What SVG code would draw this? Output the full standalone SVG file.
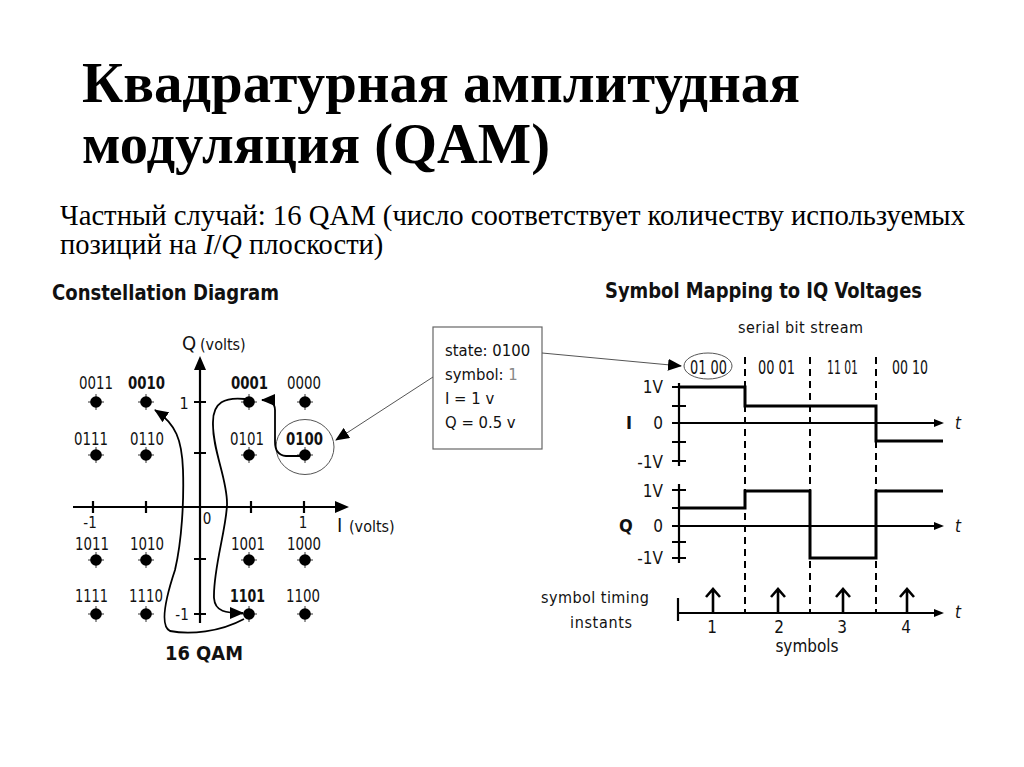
<svg xmlns="http://www.w3.org/2000/svg" width="1024" height="767" viewBox="0 0 1024 767">
<style>
.t{font-family:"Liberation Serif","Times New Roman",serif;fill:#000}
.c{font-family:"Liberation Sans Narrow","DejaVu Sans Condensed","Liberation Sans",Arial,sans-serif;font-stretch:condensed;fill:#111}
.b{font-weight:bold}
.ax{stroke:#000;stroke-width:2.2;fill:none}
.sig{stroke:#000;stroke-width:3;fill:none}
.dash{stroke:#000;stroke-width:2;stroke-dasharray:7 5;fill:none}
.cur{stroke:#000;stroke-width:1.8;fill:none}
.thin{stroke:#555;stroke-width:1;fill:none}
.dot{fill:#000}
</style>
<defs>
<marker id="ah" markerUnits="userSpaceOnUse" markerWidth="14" markerHeight="12" refX="13" refY="6" orient="auto"><path d="M0,0 L14,6 L0,12 z" fill="#000"/></marker>
<g id="pt"><circle r="5.8" class="dot"/><path d="M-8,0 H8 M0,-8 V8" stroke="#000" stroke-width="0.8"/></g>
<g id="up"><path d="M0,0 V-24 M-7,-16 L0,-24 L7,-16" stroke="#000" stroke-width="2.6" fill="none"/></g>
</defs>
<rect width="1024" height="767" fill="#fff"/>

<g id="title">
<text class="t b" x="82" y="102" font-size="56" textLength="718" lengthAdjust="spacingAndGlyphs">Квадратурная амплитудная</text>
<text class="t b" x="82" y="163" font-size="56" textLength="468" lengthAdjust="spacingAndGlyphs">модуляция (QAM)</text>
</g>
<g id="subtitle">
<text class="t" x="60" y="225" font-size="28.5" textLength="905" lengthAdjust="spacingAndGlyphs">Частный случай: 16 QAM (число соответствует количеству используемых</text>
<text class="t" x="60" y="254" font-size="28.5">позиций на <tspan font-style="italic">I</tspan>/<tspan font-style="italic">Q</tspan> плоскости)</text>
</g>

<g id="constellation">
<text class="c b" x="52" y="300" font-size="21" textLength="227" lengthAdjust="spacingAndGlyphs">Constellation Diagram</text>
<path class="ax" d="M200,365 V623 M73,507 H340" />
<path d="M200,356 L194,370 L206,370 z M349,507 L335,501 L335,513 z" fill="#000"/>
<path class="ax" d="M93,501 V513 M146,501 V513 M251,501 V513 M304,501 V513 M194,402 H206 M194,453 H206 M194,559 H206 M194,614 H206"/>
<text class="c" x="182" y="350" font-size="20">Q</text>
<text class="c" x="200" y="350" font-size="16">(volts)</text>
<text class="c" x="337" y="532" font-size="20">I</text>
<text class="c" x="349" y="532" font-size="16">(volts)</text>
<text class="c" x="90" y="528" font-size="15" text-anchor="middle">-1</text>
<text class="c" x="207" y="524" font-size="15" text-anchor="middle">0</text>
<text class="c" x="303" y="528" font-size="15" text-anchor="middle">1</text>
<text class="c" x="184" y="409" font-size="16" text-anchor="middle">1</text>
<text class="c" x="182" y="620" font-size="15" text-anchor="middle">-1</text>
<text class="c b" x="204" y="660" font-size="20" text-anchor="middle" textLength="78" lengthAdjust="spacingAndGlyphs">16 QAM</text>
</g>

<g id="points">
<g id="p0011"><use href="#pt" x="96" y="402"/><text class="c" x="79" y="389" font-size="18" textLength="34" lengthAdjust="spacingAndGlyphs">0011</text></g>
<g id="p0010"><use href="#pt" x="146" y="402"/><text class="c b" x="128" y="389" font-size="18" textLength="37" lengthAdjust="spacingAndGlyphs">0010</text></g>
<g id="p0001"><use href="#pt" x="249" y="402"/><text class="c b" x="231" y="389" font-size="18" textLength="37" lengthAdjust="spacingAndGlyphs">0001</text></g>
<g id="p0000"><use href="#pt" x="305" y="402"/><text class="c" x="287" y="389" font-size="18" textLength="34" lengthAdjust="spacingAndGlyphs">0000</text></g>
<g id="p0111"><use href="#pt" x="96" y="455"/><text class="c" x="74" y="445" font-size="18" textLength="34" lengthAdjust="spacingAndGlyphs">0111</text></g>
<g id="p0110"><use href="#pt" x="146" y="455"/><text class="c" x="130" y="445" font-size="18" textLength="34" lengthAdjust="spacingAndGlyphs">0110</text></g>
<g id="p0101"><use href="#pt" x="249" y="455"/><text class="c" x="230" y="445" font-size="18" textLength="34" lengthAdjust="spacingAndGlyphs">0101</text></g>
<g id="p0100"><use href="#pt" x="305" y="455"/><text class="c b" x="286" y="445" font-size="18" textLength="37" lengthAdjust="spacingAndGlyphs">0100</text></g>
<g id="p1011"><use href="#pt" x="96" y="560"/><text class="c" x="75" y="550" font-size="18" textLength="34" lengthAdjust="spacingAndGlyphs">1011</text></g>
<g id="p1010"><use href="#pt" x="146" y="560"/><text class="c" x="130" y="550" font-size="18" textLength="34" lengthAdjust="spacingAndGlyphs">1010</text></g>
<g id="p1001"><use href="#pt" x="249" y="560"/><text class="c" x="231" y="550" font-size="18" textLength="34" lengthAdjust="spacingAndGlyphs">1001</text></g>
<g id="p1000"><use href="#pt" x="305" y="560"/><text class="c" x="287" y="550" font-size="18" textLength="34" lengthAdjust="spacingAndGlyphs">1000</text></g>
<g id="p1111"><use href="#pt" x="96" y="614"/><text class="c" x="75" y="602" font-size="18" textLength="33" lengthAdjust="spacingAndGlyphs">1111</text></g>
<g id="p1110"><use href="#pt" x="146" y="614"/><text class="c" x="129" y="602" font-size="18" textLength="34" lengthAdjust="spacingAndGlyphs">1110</text></g>
<g id="p1101"><use href="#pt" x="249" y="614"/><text class="c b" x="230" y="602" font-size="18" textLength="35" lengthAdjust="spacingAndGlyphs">1101</text></g>
<g id="p1100"><use href="#pt" x="305" y="614"/><text class="c" x="286" y="602" font-size="18" textLength="34" lengthAdjust="spacingAndGlyphs">1100</text></g>
</g>

<g id="statebox">
<rect x="433" y="327" width="109" height="122" fill="#fff" stroke="#666" stroke-width="1.2"/>
<text class="c" x="445" y="356" font-size="16.5">state: 0100</text>
<text class="c" x="445" y="380" font-size="16.5">symbol: <tspan fill="#888">1</tspan></text>
<text class="c" x="445" y="404" font-size="16.5">I = 1 v</text>
<text class="c" x="445" y="428" font-size="16.5">Q = 0.5 v</text>
</g>

<g id="mapping">
<text class="c b" x="605" y="298" font-size="21" textLength="317" lengthAdjust="spacingAndGlyphs">Symbol Mapping to IQ Voltages</text>
<text class="c" x="738" y="333" font-size="16" textLength="125" lengthAdjust="spacing">serial bit stream</text>
<text class="c" x="690" y="374" font-size="19" textLength="37" lengthAdjust="spacingAndGlyphs">01 00</text>
<text class="c" x="758" y="374" font-size="19" textLength="37" lengthAdjust="spacingAndGlyphs">00 01</text>
<text class="c" x="827" y="374" font-size="19" textLength="31" lengthAdjust="spacingAndGlyphs" fill="#777">11 01</text>
<text class="c" x="892" y="374" font-size="19" textLength="36" lengthAdjust="spacingAndGlyphs">00 10</text>
<path class="dash" d="M745,357 V613 M810,357 V613 M876,357 V613"/>

<g id="ichart">
<path class="ax" d="M679,383 V466 M672,387 H686 M672,406 H686 M672,442 H686 M672,461 H686 M672,423 H936"/>
<path d="M944,423 L934,419 L934,427 z" fill="#000"/>
<path class="sig" d="M679,387 H745 V406 H876 V441 H943"/>
<text class="c b" x="626" y="429" font-size="18">I</text>
<text class="c" x="663" y="393" font-size="17" text-anchor="end">1V</text>
<text class="c" x="663" y="429" font-size="17" text-anchor="end">0</text>
<text class="c" x="663" y="468" font-size="17" text-anchor="end">-1V</text>
<text class="c" x="955" y="429" font-size="17" font-style="italic">t</text>
</g>

<g id="qchart">
<path class="ax" d="M679,484 V563 M672,490 H686 M672,508 H686 M672,542 H686 M672,558 H686 M672,526 H936"/>
<path d="M944,526 L934,522 L934,530 z" fill="#000"/>
<path class="sig" d="M679,508 H745 V491 H810 V558 H876 V491 H943"/>
<text class="c b" x="619" y="532" font-size="18">Q</text>
<text class="c" x="663" y="497" font-size="17" text-anchor="end">1V</text>
<text class="c" x="663" y="532" font-size="17" text-anchor="end">0</text>
<text class="c" x="663" y="564" font-size="17" text-anchor="end">-1V</text>
<text class="c" x="955" y="532" font-size="17" font-style="italic">t</text>
</g>

<g id="timing">
<path class="ax" d="M678,598 V621 M678,613 H936"/>
<path d="M944,613 L934,609 L934,617 z" fill="#000"/>
<use href="#up" x="713" y="613"/>
<use href="#up" x="778" y="613"/>
<use href="#up" x="843" y="613"/>
<use href="#up" x="907" y="613"/>
<text class="c" x="712" y="633" font-size="17" text-anchor="middle">1</text>
<text class="c" x="779" y="633" font-size="17" text-anchor="middle">2</text>
<text class="c" x="842" y="633" font-size="17" text-anchor="middle">3</text>
<text class="c" x="906" y="633" font-size="17" text-anchor="middle">4</text>
<text class="c" x="807" y="652" font-size="17" text-anchor="middle">symbols</text>
<text class="c" x="541" y="603" font-size="16" textLength="108" lengthAdjust="spacing">symbol timing</text>
<text class="c" x="570" y="628" font-size="16" textLength="62" lengthAdjust="spacing">instants</text>
<text class="c" x="955" y="618" font-size="17" font-style="italic">t</text>
</g>
</g>

<g id="connectors">
<ellipse class="thin" cx="305" cy="447" rx="29" ry="27.5"/>
<ellipse class="thin" cx="708" cy="366" rx="24" ry="13"/>
<path class="cur" marker-end="url(#ah)" d="M305,456 L286,456 Q275,455 275,442 L275,410 Q275,400 262,400"/>
<path class="cur" marker-end="url(#ah)" d="M245,399 C225,397 213,402 213,422 C212,450 228,480 227,505 C226,530 213,570 214,598 C215,612 226,613 243,613"/>
<path class="cur" marker-end="url(#ah)" d="M244,619 C220,632 190,635 170,631 C160,626 165,600 175,570 C182,540 184,500 183,470 C182,440 176,424 155,410"/>
<path class="thin" marker-end="url(#ah)" d="M433,377 L336,440"/>
<path class="thin" marker-end="url(#ah)" d="M542,353 L681,366"/>
</g>
</svg>
